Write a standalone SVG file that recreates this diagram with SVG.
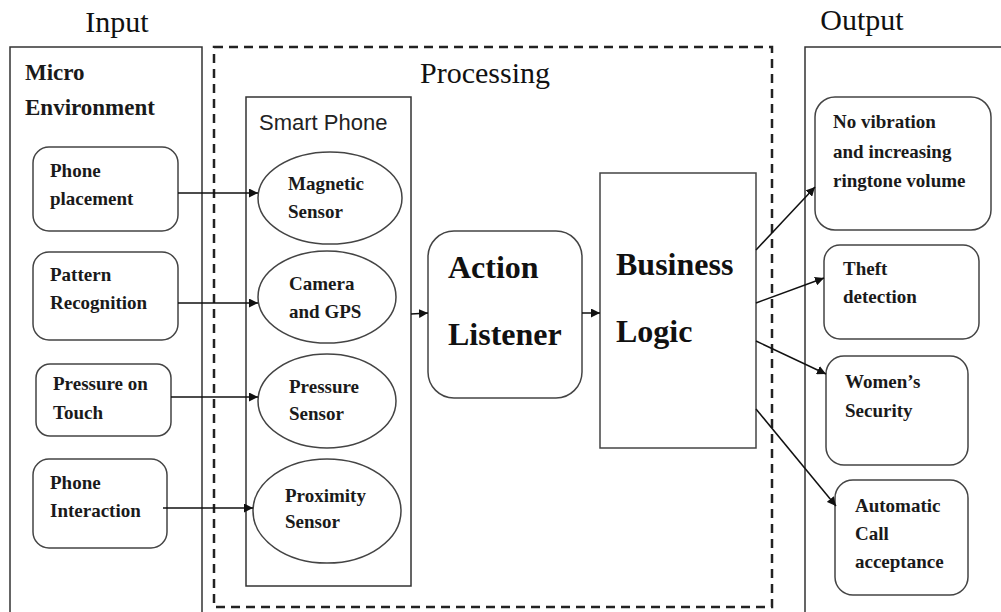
<svg xmlns="http://www.w3.org/2000/svg" width="1001" height="612" viewBox="0 0 1001 612">
<style>
.bx{fill:none;stroke:#333;stroke-width:1.5}
.nd{fill:#fff;stroke:#444;stroke-width:1.5}
.t{font-family:'Liberation Serif','DejaVu Serif',serif;font-weight:bold;font-size:19px;fill:#1a1a1a}
.big{font-family:'Liberation Serif','DejaVu Serif',serif;font-weight:bold;font-size:32px;fill:#111}
.hd{font-family:'Liberation Serif','DejaVu Serif',serif;font-size:30px;fill:#111}
.sp{font-family:'Liberation Sans',Arial,sans-serif;font-size:22px;fill:#222}
.c{fill:none;stroke:#111;stroke-width:1.5}
</style>
<defs>
<marker id="ah" viewBox="0 0 10 10" refX="10" refY="5" markerWidth="9" markerHeight="9" markerUnits="userSpaceOnUse" orient="auto">
<path d="M0,0 L10,5 L0,10 z" fill="#111"/>
</marker>
</defs>
<rect width="1001" height="612" fill="#fff"/>

<g id="input-panel">
<text class="hd" x="117" y="32" text-anchor="middle">Input</text>
<path class="bx" d="M10,620 V47 H202 V620"/>
<text class="t" x="25" y="80" style="font-size:23px">Micro</text>
<text class="t" x="25" y="115" style="font-size:23px">Environment</text>
</g>

<g id="processing-panel">
<rect x="214" y="47" width="558" height="560" fill="none" stroke="#222" stroke-width="2.5" stroke-dasharray="9,6"/>
<text class="hd" x="485" y="83" text-anchor="middle">Processing</text>
</g>

<g id="output-panel">
<text class="hd" x="862" y="30" text-anchor="middle">Output</text>
<path class="bx" d="M1010,47 H805 V620"/>
</g>

<g id="phone-placement">
<rect class="nd" x="33" y="147" width="145" height="84" rx="16"/>
<text class="t" x="50" y="177">Phone</text>
<text class="t" x="50" y="205">placement</text>
</g>
<g id="pattern-recognition">
<rect class="nd" x="33" y="252" width="145" height="88" rx="16"/>
<text class="t" x="50" y="281">Pattern</text>
<text class="t" x="50" y="309">Recognition</text>
</g>
<g id="pressure-on-touch">
<rect class="nd" x="36" y="364" width="135" height="72" rx="14"/>
<text class="t" x="53" y="390">Pressure on</text>
<text class="t" x="53" y="419">Touch</text>
</g>
<g id="phone-interaction">
<rect class="nd" x="33" y="459" width="134" height="89" rx="16"/>
<text class="t" x="50" y="489">Phone</text>
<text class="t" x="50" y="517">Interaction</text>
</g>

<g id="smart-phone">
<rect class="bx" x="246" y="97" width="165" height="489"/>
<text class="sp" x="259" y="130">Smart Phone</text>
</g>
<g id="magnetic-sensor">
<ellipse class="nd" cx="330" cy="198" rx="72" ry="46"/>
<text class="t" x="288" y="190">Magnetic</text>
<text class="t" x="288" y="218">Sensor</text>
</g>
<g id="camera-gps">
<ellipse class="nd" cx="327" cy="297" rx="69" ry="46"/>
<text class="t" x="289" y="290">Camera</text>
<text class="t" x="289" y="318">and GPS</text>
</g>
<g id="pressure-sensor">
<ellipse class="nd" cx="327" cy="401" rx="69" ry="47"/>
<text class="t" x="289" y="393">Pressure</text>
<text class="t" x="289" y="420">Sensor</text>
</g>
<g id="proximity-sensor">
<ellipse class="nd" cx="327" cy="511" rx="74" ry="52"/>
<text class="t" x="285" y="502">Proximity</text>
<text class="t" x="285" y="528">Sensor</text>
</g>

<g id="action-listener">
<rect class="nd" x="428" y="231" width="154" height="167" rx="26"/>
<text class="big" x="448" y="278">Action</text>
<text class="big" x="448" y="345">Listener</text>
</g>
<g id="business-logic">
<rect class="nd" x="600" y="173" width="156" height="275"/>
<text class="big" x="616" y="275">Business</text>
<text class="big" x="616" y="342">Logic</text>
</g>

<g id="no-vibration">
<rect class="nd" x="815" y="97" width="176" height="133" rx="20"/>
<text class="t" x="833" y="128">No vibration</text>
<text class="t" x="833" y="158">and increasing</text>
<text class="t" x="833" y="187">ringtone volume</text>
</g>
<g id="theft-detection">
<rect class="nd" x="824" y="245" width="155" height="94" rx="16"/>
<text class="t" x="843" y="275">Theft</text>
<text class="t" x="843" y="303">detection</text>
</g>
<g id="womens-security">
<rect class="nd" x="826" y="356" width="142" height="109" rx="18"/>
<text class="t" x="845" y="388">Women’s</text>
<text class="t" x="845" y="417">Security</text>
</g>
<g id="automatic-call">
<rect class="nd" x="835" y="480" width="133" height="115" rx="18"/>
<text class="t" x="855" y="512">Automatic</text>
<text class="t" x="855" y="540">Call</text>
<text class="t" x="855" y="568">acceptance</text>
</g>

<g id="connectors">
<line class="c" x1="178" y1="193" x2="258" y2="193" marker-end="url(#ah)"/>
<line class="c" x1="178" y1="303" x2="258" y2="303" marker-end="url(#ah)"/>
<line class="c" x1="171" y1="397" x2="258" y2="397" marker-end="url(#ah)"/>
<line class="c" x1="163" y1="508" x2="253" y2="508" marker-end="url(#ah)"/>
<line class="c" x1="411" y1="314" x2="428" y2="313" marker-end="url(#ah)"/>
<line class="c" x1="582" y1="313" x2="600" y2="313" marker-end="url(#ah)"/>
<line class="c" x1="756" y1="250" x2="815" y2="187" marker-end="url(#ah)"/>
<line class="c" x1="756" y1="303" x2="824" y2="278" marker-end="url(#ah)"/>
<line class="c" x1="756" y1="341" x2="826" y2="374" marker-end="url(#ah)"/>
<line class="c" x1="756" y1="409" x2="836" y2="506" marker-end="url(#ah)"/>
</g>
</svg>
